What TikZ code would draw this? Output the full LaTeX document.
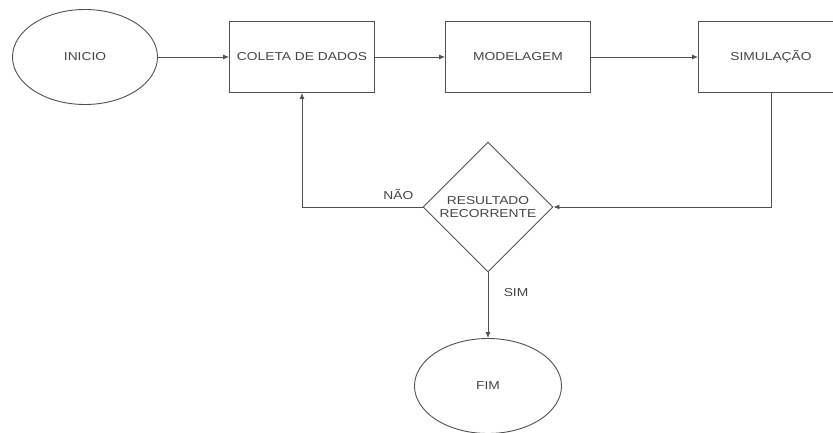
\documentclass[tikz,border=0pt]{standalone}
\usepackage{fontspec}
\setmainfont[FakeStretch=1.2]{Liberation Sans}
\usepackage{tikz}
\usetikzlibrary{arrows.meta,positioning,shapes.geometric}
\definecolor{linegray}{HTML}{505050}
\definecolor{textgray}{HTML}{444444}

\begin{document}
\begin{tikzpicture}[
  x=1pt,y=-1pt,
  every node/.style={font=\fontsize{11.5}{13}\selectfont,text=textgray,align=center},
  term/.style={draw=linegray,ellipse,line width=0.9pt,minimum width=145pt,minimum height=95pt,inner sep=0pt},
  proc/.style={draw=linegray,line width=0.9pt,minimum width=145pt,minimum height=71pt,inner sep=2pt},
  dec/.style={draw=linegray,diamond,line width=0.9pt,minimum width=130pt,minimum height=130pt,inner sep=0pt},
  arr/.style={-{Latex[length=6pt,width=5pt]},line width=0.9pt,color=linegray}
]
\useasboundingbox (0,0) rectangle (833,433);
\node[term] (inicio) at (85,57) {INICIO};
\node[proc] (coleta) at (302,57) {COLETA DE DADOS};
\node[proc] (model) at (518,57) {MODELAGEM};
\node[proc] (simul) at (771,57) {SIMULAÇÃO};
\node[dec] (result) at (488,207) {RESULTADO\\RECORRENTE};
\node[term,minimum width=147pt] (fim) at (488,386) {FIM};
\draw[arr] (inicio) -- (coleta);
\draw[arr] (coleta) -- (model);
\draw[arr] (model) -- (simul);
\draw[arr] (simul.south) |- (result.east);
\draw[arr] (result.west) -| node[pos=0.1,above=4pt]{NÃO} (coleta.south);
\draw[arr] (result.south) -- node[right=12pt,pos=0.3]{SIM} (fim.north);
\end{tikzpicture}
\end{document}
